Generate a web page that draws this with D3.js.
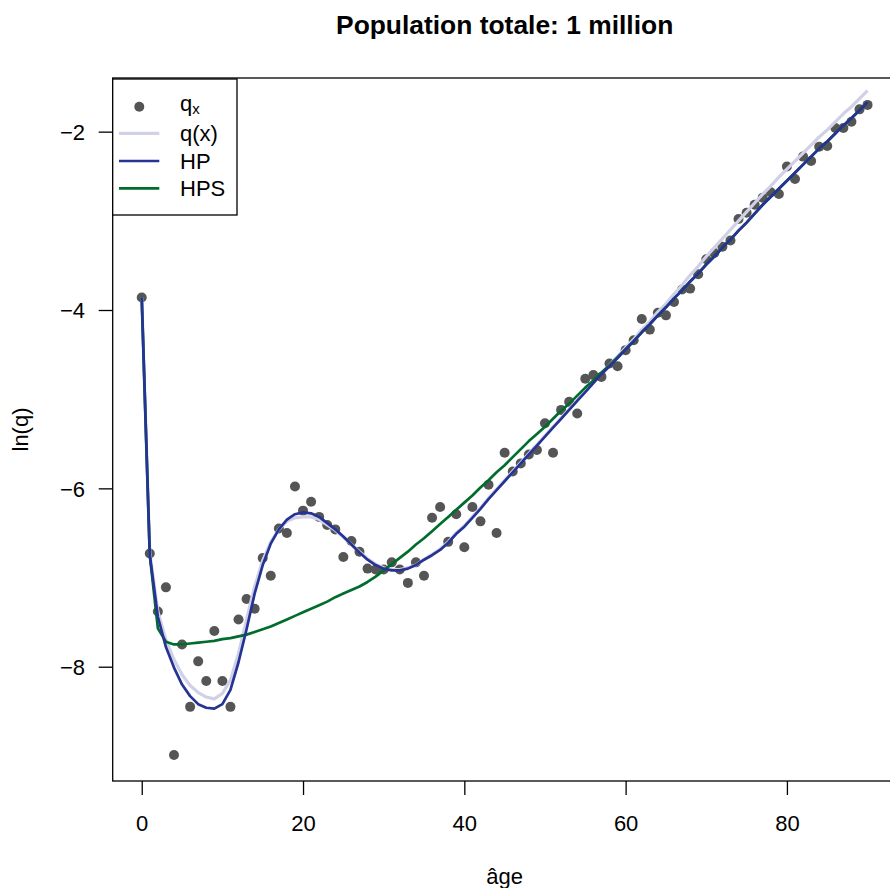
<!DOCTYPE html>
<html>
<head>
<meta charset="utf-8">
<script src="https://cdn.jsdelivr.net/npm/d3@7"></script>
<style>
  html, body { margin: 0; padding: 0; background: #ffffff; }
  svg { display: block; font-family: "Liberation Sans", Arial, Helvetica, sans-serif; }
</style>
</head>
<body>
<svg id="chart" width="890" height="888"></svg>
<script>
// Ages 0..90
const ages = [0,1,2,3,4,5,6,7,8,9,10,11,12,13,14,15,16,17,18,19,20,21,22,23,24,25,26,27,28,29,
  30,31,32,33,34,35,36,37,38,39,40,41,42,43,44,45,46,47,48,49,50,51,52,53,54,55,56,57,58,59,
  60,61,62,63,64,65,66,67,68,69,70,71,72,73,74,75,76,77,78,79,80,81,82,83,84,85,86,87,88,89,90];

// Observed ln(q_x)
const lnQx = [-3.86,-6.73,-7.38,-7.11,-8.99,-7.75,-8.45,-7.94,-8.16,-7.60,
  -8.16,-8.45,-7.47,-7.24,-7.35,-6.78,-6.98,-6.45,-6.50,-5.98,
  -6.25,-6.15,-6.32,-6.41,-6.46,-6.77,-6.59,-6.71,-6.90,-6.91,
  -6.91,-6.83,-6.91,-7.06,-6.83,-6.98,-6.33,-6.21,-6.60,-6.29,
  -6.66,-6.21,-6.37,-5.96,-6.50,-5.60,-5.81,-5.72,-5.62,-5.57,
  -5.27,-5.60,-5.12,-5.03,-5.16,-4.77,-4.73,-4.75,-4.60,-4.63,
  -4.45,-4.34,-4.10,-4.22,-4.03,-4.06,-3.91,-3.77,-3.76,-3.60,
  -3.43,-3.36,-3.29,-3.22,-2.98,-2.91,-2.82,-2.74,-2.68,-2.70,
  -2.39,-2.53,-2.28,-2.33,-2.17,-2.16,-1.96,-1.96,-1.89,-1.75,-1.70];

// Reference law q(x)
const lnQref = [-3.86,-6.72,-7.38,-7.70,-7.92,-8.09,-8.21,-8.29,-8.34,-8.36,
  -8.30,-8.15,-7.85,-7.47,-7.10,-6.81,-6.60,-6.46,-6.37,-6.33,
  -6.32,-6.32,-6.35,-6.41,-6.47,-6.55,-6.63,-6.71,-6.79,-6.85,
  -6.89,-6.91,-6.91,-6.89,-6.86,-6.80,-6.74,-6.68,-6.60,-6.50,
  -6.42,-6.32,-6.22,-6.11,-6.01,-5.91,-5.81,-5.71,-5.61,-5.51,
  -5.41,-5.31,-5.21,-5.11,-5.01,-4.91,-4.81,-4.71,-4.62,-4.52,
  -4.42,-4.33,-4.22,-4.13,-4.02,-3.93,-3.82,-3.72,-3.61,-3.51,
  -3.40,-3.30,-3.20,-3.10,-3.00,-2.90,-2.80,-2.70,-2.61,-2.51,
  -2.42,-2.33,-2.24,-2.15,-2.06,-1.98,-1.89,-1.80,-1.72,-1.63,-1.54];

// Heligman-Pollard fit (HP)
const lnHP = [-3.86,-6.75,-7.44,-7.78,-8.01,-8.20,-8.33,-8.42,-8.46,-8.47,
  -8.42,-8.26,-7.95,-7.58,-7.18,-6.86,-6.62,-6.46,-6.35,-6.29,
  -6.27,-6.28,-6.32,-6.39,-6.46,-6.54,-6.63,-6.72,-6.80,-6.86,
  -6.90,-6.92,-6.92,-6.90,-6.86,-6.80,-6.75,-6.69,-6.61,-6.51,
  -6.43,-6.33,-6.23,-6.12,-6.02,-5.92,-5.82,-5.72,-5.62,-5.52,
  -5.42,-5.32,-5.22,-5.12,-5.02,-4.92,-4.82,-4.72,-4.63,-4.54,
  -4.44,-4.35,-4.25,-4.16,-4.06,-3.97,-3.87,-3.78,-3.68,-3.59,
  -3.49,-3.40,-3.30,-3.21,-3.11,-3.02,-2.92,-2.82,-2.73,-2.64,
  -2.55,-2.46,-2.37,-2.28,-2.19,-2.11,-2.02,-1.93,-1.85,-1.76,-1.67];

// Simplified fit without accident hump (HPS)
const lnHPS = [-3.86,-6.75,-7.57,-7.72,-7.75,-7.75,-7.74,-7.73,-7.72,-7.71,
  -7.69,-7.68,-7.66,-7.64,-7.61,-7.58,-7.55,-7.51,-7.47,-7.43,
  -7.39,-7.35,-7.31,-7.27,-7.22,-7.18,-7.14,-7.10,-7.05,-6.99,
  -6.92,-6.85,-6.78,-6.71,-6.63,-6.56,-6.48,-6.40,-6.32,-6.24,
  -6.16,-6.08,-5.99,-5.91,-5.82,-5.74,-5.65,-5.56,-5.47,-5.39,
  -5.31,-5.22,-5.13,-5.05,-4.96,-4.87,-4.79,-4.70,-4.62,-4.53,
  -4.44,-4.35,-4.25,-4.16,-4.06,-3.97,-3.87,-3.78,-3.68,-3.59,
  -3.49,-3.40,-3.30,-3.21,-3.11,-3.02,-2.92,-2.82,-2.73,-2.64,
  -2.55,-2.46,-2.37,-2.28,-2.19,-2.11,-2.02,-1.93,-1.85,-1.76,-1.67];

const xTicks = [0, 20, 40, 60, 80];
const yTicks = [-8, -6, -4, -2];
const xTickLabels = ["0", "20", "40", "60", "80"];
const yTickLabels = ["\u22128", "\u22126", "\u22124", "\u22122"];

const titleText = "Population totale: 1 million";
const xLabel = "âge";
const yLabel = "ln(q)";
const legendLabels = ["q(x)", "HP", "HPS"];

const colPoint = "#555555";
const colRef = "#d0d1e6";
const colHP = "#253494";
const colHPS = "#006d2c";

const svg = d3.select("#chart");
const plotLeft = 112.7, plotRight = 896.6, plotTop = 78, plotBottom = 781;

const x = d3.scaleLinear().domain([-3.6, 93.6]).range([plotLeft, plotRight]);
const y = d3.scaleLinear().domain([-9.2816, -1.3984]).range([plotBottom, plotTop]);

// Title
svg.append("text")
  .attr("x", (plotLeft + plotRight) / 2).attr("y", 34)
  .attr("text-anchor", "middle")
  .attr("font-size", 26.4).attr("font-weight", "bold")
  .text(titleText);

// Points
svg.append("g").selectAll("circle")
  .data(ages.map((a, i) => [a, lnQx[i]]))
  .join("circle")
  .attr("cx", d => x(d[0])).attr("cy", d => y(d[1]))
  .attr("r", 5).attr("fill", colPoint);

const line = d3.line().x(d => x(d[0])).y(d => y(d[1]));
function drawCurve(vals, color, width) {
  svg.append("path")
    .datum(ages.map((a, i) => [a, vals[i]]))
    .attr("d", line)
    .attr("fill", "none")
    .attr("stroke", color)
    .attr("stroke-width", width)
    .attr("stroke-linejoin", "round");
}
drawCurve(lnQref, colRef, 3.2);
drawCurve(lnHPS, colHPS, 2.7);
drawCurve(lnHP, colHP, 2.7);

// Plot frame
svg.append("rect")
  .attr("x", plotLeft).attr("y", plotTop)
  .attr("width", plotRight - plotLeft).attr("height", plotBottom - plotTop)
  .attr("fill", "none").attr("stroke", "#000").attr("stroke-width", 1.3);

// Axes
const xAxis = svg.append("g")
  .attr("transform", `translate(0,${plotBottom})`)
  .call(d3.axisBottom(x).tickValues(xTicks).tickSize(14)
    .tickFormat((d, i) => xTickLabels[i]));
xAxis.select(".domain").remove();
xAxis.selectAll("line").attr("stroke", "#000").attr("stroke-width", 1.3);
xAxis.selectAll("text")
  .attr("y", 50).attr("dy", 0)
  .attr("font-size", 22).attr("font-family", "Liberation Sans, Arial, sans-serif")
  .attr("fill", "#000");

const yAxis = svg.append("g")
  .attr("transform", `translate(${plotLeft},0)`)
  .call(d3.axisLeft(y).tickValues(yTicks).tickSize(14)
    .tickFormat((d, i) => yTickLabels[i]));
yAxis.select(".domain").remove();
yAxis.selectAll("line").attr("stroke", "#000").attr("stroke-width", 1.3);
yAxis.selectAll("text")
  .attr("x", -27.7).attr("dy", "0.36em")
  .attr("font-size", 22).attr("font-family", "Liberation Sans, Arial, sans-serif")
  .attr("fill", "#000");

// Axis titles
svg.append("text")
  .attr("x", (plotLeft + plotRight) / 2).attr("y", 884)
  .attr("text-anchor", "middle").attr("font-size", 22)
  .text(xLabel);
svg.append("text")
  .attr("transform", `translate(28,${(plotTop + plotBottom) / 2}) rotate(-90)`)
  .attr("text-anchor", "middle").attr("font-size", 22)
  .text(yLabel);

// Legend
const lg = svg.append("g");
lg.append("rect")
  .attr("x", plotLeft).attr("y", 79).attr("width", 237 - plotLeft).attr("height", 215 - 79)
  .attr("fill", "#fff").attr("stroke", "#000").attr("stroke-width", 1.3);
const rowY = [106.7, 133.3, 161, 188.3];
lg.append("circle").attr("cx", 139.3).attr("cy", rowY[0]).attr("r", 5).attr("fill", colPoint);
const qx = lg.append("text").attr("x", 180).attr("y", 111).attr("font-size", 22);
qx.append("tspan").text("q");
qx.append("tspan").attr("font-size", 15).attr("dy", 2.5).text("x");
const legendCols = [colRef, colHP, colHPS];
const legendWidths = [3.2, 2.7, 2.7];
legendLabels.forEach((lab, i) => {
  const yy = rowY[i + 1];
  lg.append("line")
    .attr("x1", 119).attr("x2", 159.3).attr("y1", yy).attr("y2", yy)
    .attr("stroke", legendCols[i]).attr("stroke-width", legendWidths[i]);
  lg.append("text").attr("x", 180).attr("y", yy + 8).attr("font-size", 22).text(lab);
});
</script>
</body>
</html>
